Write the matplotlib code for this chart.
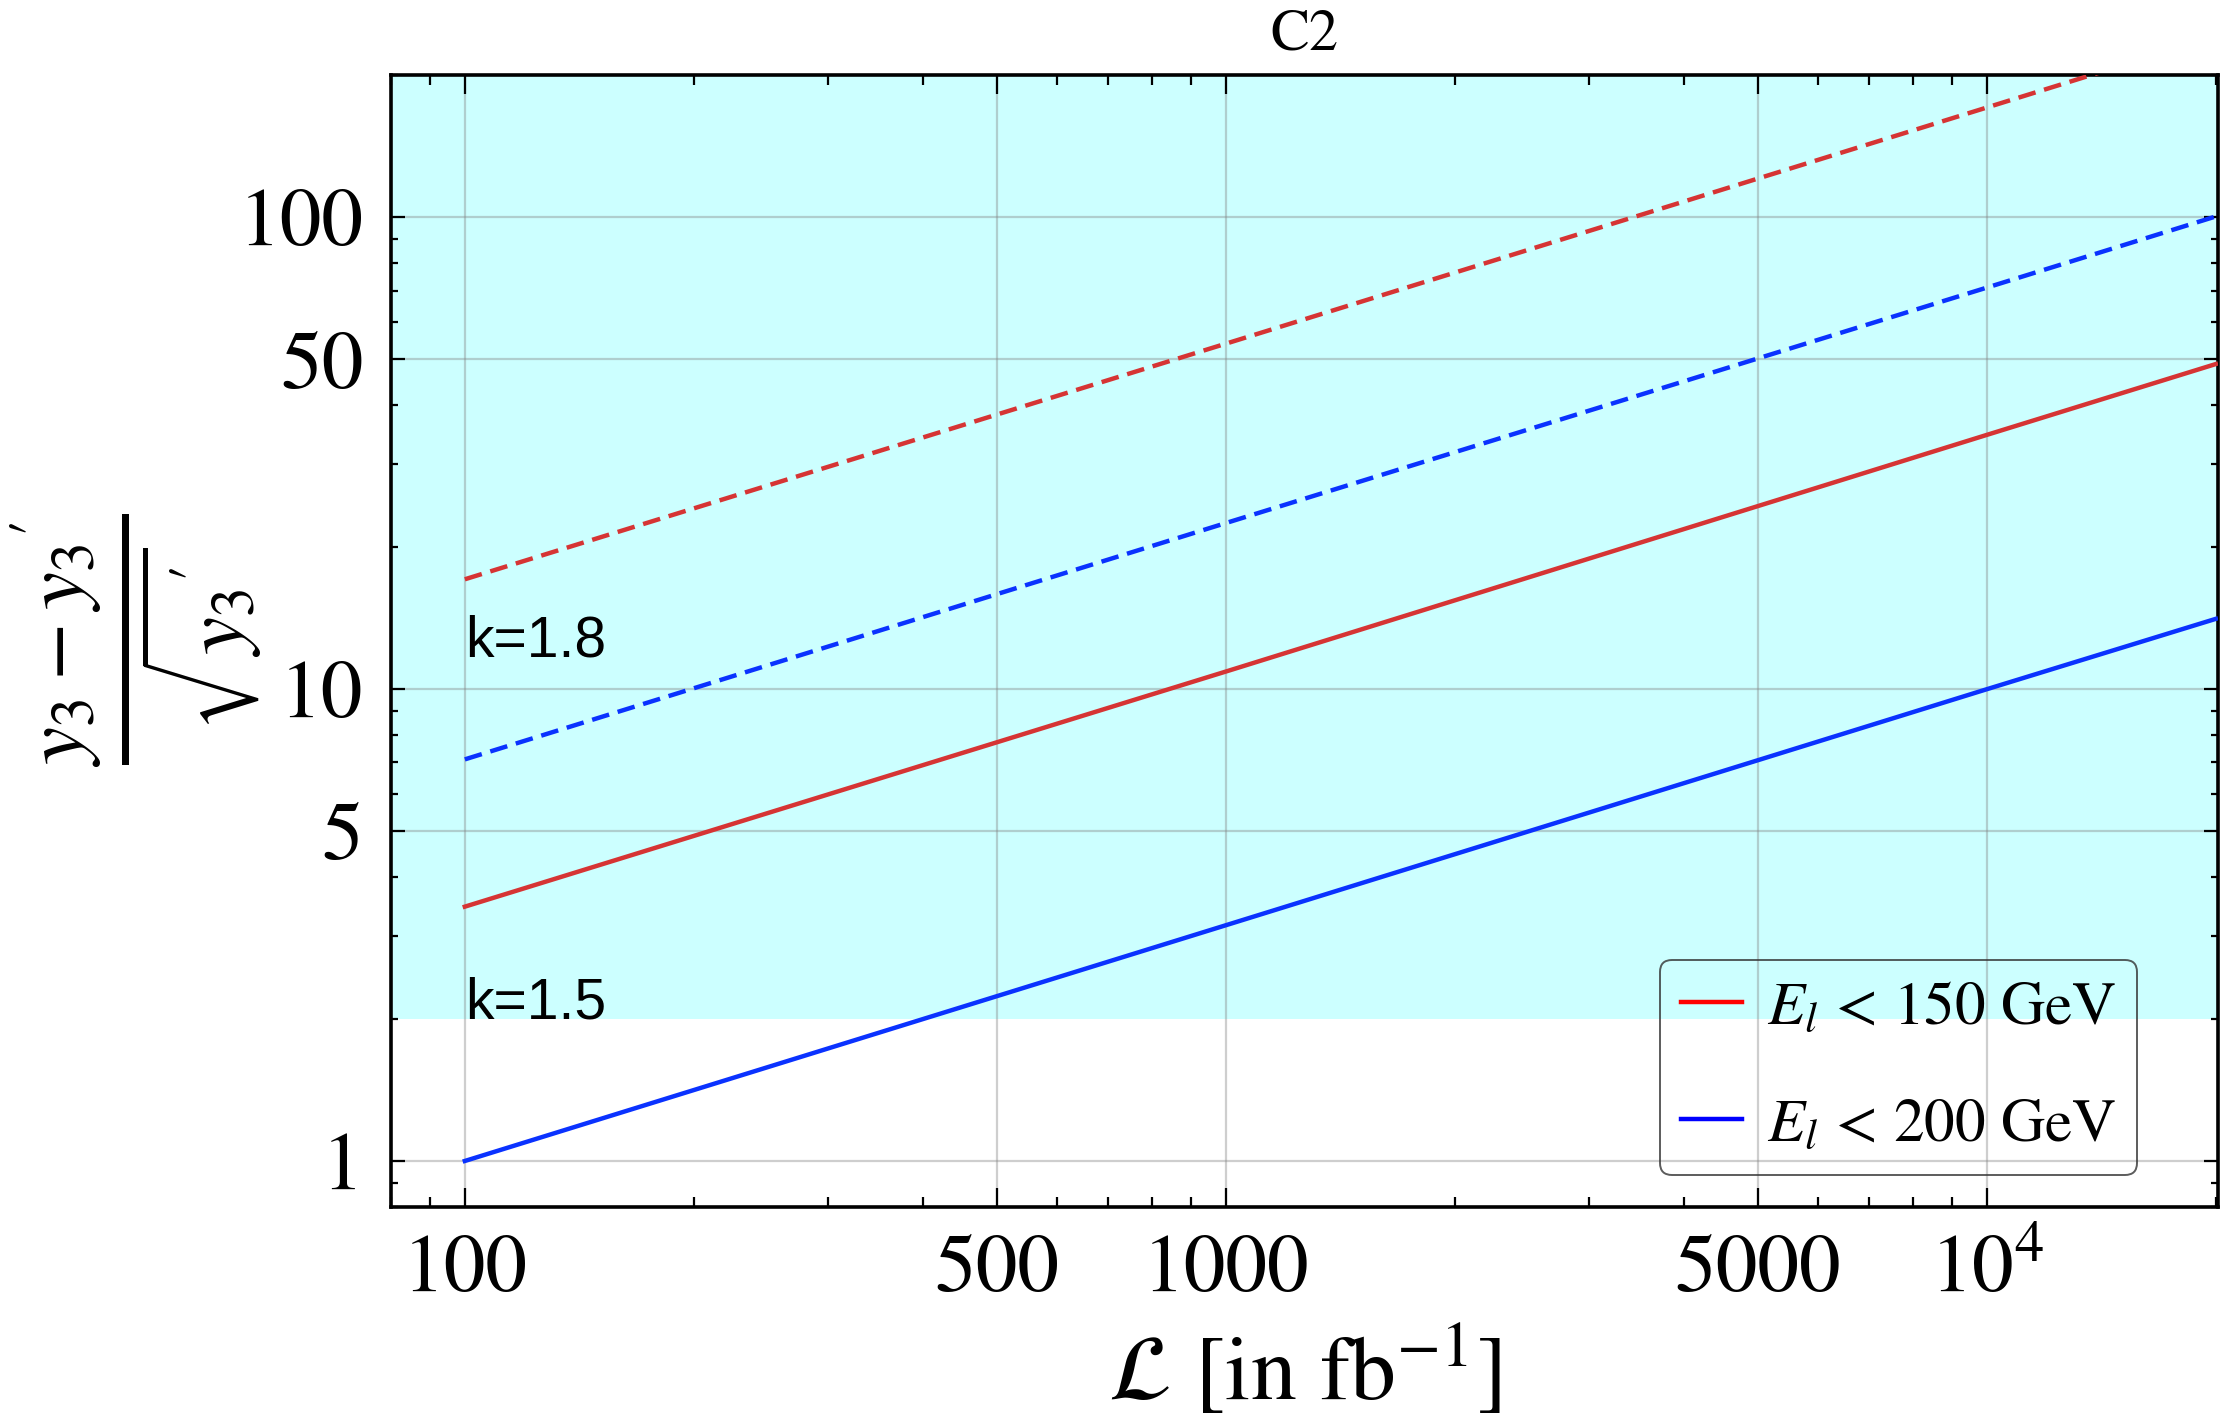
import matplotlib
matplotlib.use("Agg")
import matplotlib.pyplot as plt
from matplotlib.lines import Line2D
from matplotlib.ticker import FixedLocator, LogLocator, NullFormatter, FixedFormatter

plt.rcParams['font.family'] = 'serif'
plt.rcParams['font.serif'] = ['STIXGeneral', 'Liberation Serif', 'DejaVu Serif']
plt.rcParams['mathtext.fontset'] = 'stix'

# ---- data ----
lumi = [100, 1000, 10000, 20000]
k15_E150 = [3.46, 10.9, 34.6, 48.9]     # red solid
k15_E200 = [1.0, 3.16, 10.0, 14.1]      # blue solid
k18_E150 = [17.1, 54.0, 171.0, 242.0]   # red dashed
k18_E200 = [7.1, 22.5, 71.0, 100.5]     # blue dashed
shade_threshold = 2.0
xticks = [100, 500, 1000, 5000, 10000]
xticklabels = ['100', '500', '1000', '5000', r'$10^4$']
yticks = [1, 5, 10, 50, 100]
yticklabels = ['1', '5', '10', '50', '100']
legend_labels = [r'$E_l\,<\,150$ GeV', r'$E_l\,<\,200$ GeV']

RED = '#D63434'
BLUE = '#0A32FF'

fig = plt.figure(figsize=(11.11, 7.115), dpi=200)
ax = fig.add_axes([0.176, 0.152, 0.822, 0.795])
ax.set_xscale('log')
ax.set_yscale('log')
xmin, xmax = 80, 20100
ymin, ymax = 0.80, 200
ax.set_xlim(xmin, xmax)
ax.set_ylim(ymin, ymax)

ax.axhspan(shade_threshold, ymax, color='#CCFFFF', zorder=0, lw=0)

ax.plot(lumi, k15_E150, color=RED, lw=1.6, zorder=3)
ax.plot(lumi, k15_E200, color=BLUE, lw=1.6, zorder=3)
ax.plot(lumi, k18_E150, color=RED, lw=1.6, ls=(0, (4, 2)), zorder=3)
ax.plot(lumi, k18_E200, color=BLUE, lw=1.6, ls=(0, (4, 2)), zorder=3)

ax.xaxis.set_major_locator(FixedLocator(xticks))
ax.xaxis.set_major_formatter(FixedFormatter(xticklabels))
ax.xaxis.set_minor_locator(LogLocator(base=10, subs=range(2, 10)))
ax.xaxis.set_minor_formatter(NullFormatter())
ax.yaxis.set_major_locator(FixedLocator(yticks))
ax.yaxis.set_major_formatter(FixedFormatter(yticklabels))
ax.yaxis.set_minor_locator(LogLocator(base=10, subs=range(2, 10)))
ax.yaxis.set_minor_formatter(NullFormatter())

ax.tick_params(which='both', direction='in', top=True, right=True, width=0.8)
ax.tick_params(which='major', labelsize=30, pad=10)
ax.tick_params(axis='x', which='major', length=7)
ax.tick_params(axis='x', which='minor', length=3.5)
ax.tick_params(axis='y', which='major', length=5)
ax.tick_params(axis='y', which='minor', length=2.5)
for s in ax.spines.values():
    s.set_linewidth(1.3)

ax.grid(True, which='major', color='#808080', alpha=0.38, lw=0.8, zorder=1)
ax.set_axisbelow(True)

ax.text(100, 12.6, 'k=1.8', family=['Liberation Sans', 'DejaVu Sans'], fontsize=20.5,
        ha='left', va='center', zorder=4)
ax.text(100, 2.16, 'k=1.5', family=['Liberation Sans', 'DejaVu Sans'], fontsize=20.5,
        ha='left', va='center', zorder=4)

handles = [Line2D([], [], color='#FF0000', lw=1.6), Line2D([], [], color='#0000FF', lw=1.6)]
leg = ax.legend(handles, legend_labels, loc='lower right', bbox_to_anchor=(0.956, 0.028),
                borderaxespad=0, fontsize=22, frameon=True, fancybox=True, handlelength=1.0,
                labelspacing=1.0, borderpad=0.35, handletextpad=0.4)
leg.get_frame().set_facecolor('none')
leg.get_frame().set_edgecolor('#333333')
leg.get_frame().set_linewidth(0.7)

fig.text(0.587, 0.975, 'C2', fontsize=21, ha='center', va='center')
fig.text(0.587, 0.035, r'$\mathcal{L}$ [in fb$^{-1}$]', fontsize=33, ha='center', va='center')
fig.text(0.062, 0.55, r"$\frac{y_3 - y_3{}^{\prime}}{\sqrt{y_3{}^{\prime}}}$", fontsize=44,
         ha='center', va='center', rotation=90)

fig.savefig('out.png', dpi=200)
